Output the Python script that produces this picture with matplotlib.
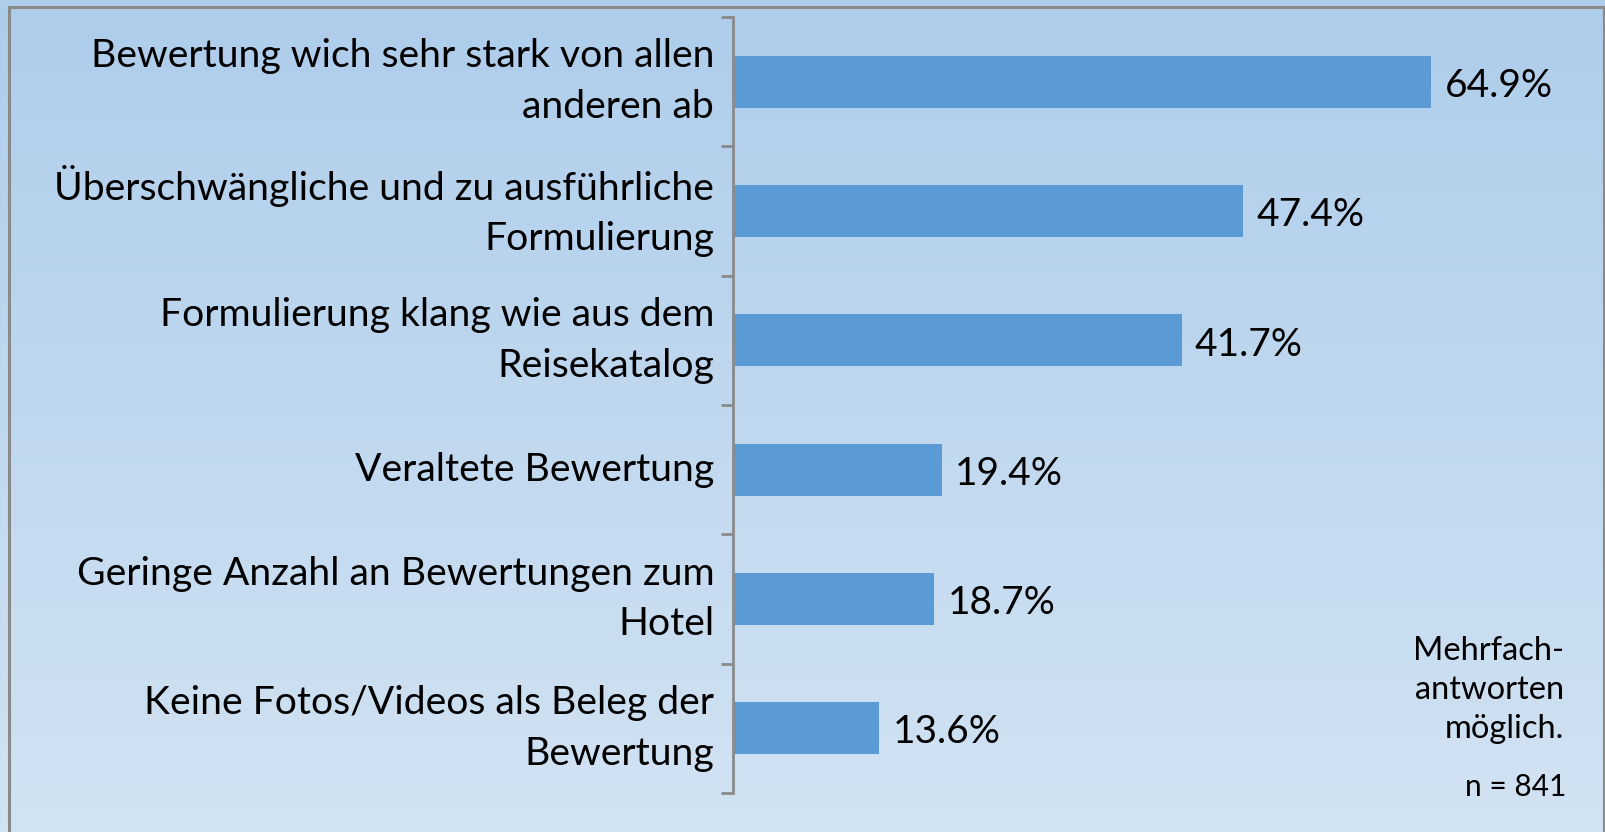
import matplotlib
matplotlib.use("Agg")
import matplotlib.pyplot as plt
import numpy as np
from matplotlib.lines import Line2D

categories = [
    "Bewertung wich sehr stark von allen\nanderen ab",
    "Überschwängliche und zu ausführliche\nFormulierung",
    "Formulierung klang wie aus dem\nReisekatalog",
    "Veraltete Bewertung",
    "Geringe Anzahl an Bewertungen zum\nHotel",
    "Keine Fotos/Videos als Beleg der\nBewertung",
]
values = [64.9, 47.4, 41.7, 19.4, 18.7, 13.6]
value_labels = ["64.9%", "47.4%", "41.7%", "19.4%", "18.7%", "13.6%"]
note_text = "Mehrfach-\nantworten\nmöglich."
n_text = "n = 841"

plt.rcParams['font.family'] = ['Lato', 'DejaVu Sans']

W, H = 1606, 832
fig = plt.figure(figsize=(W / 100, H / 100), dpi=100)

# gradient background
bg = fig.add_axes([0, 0, 1, 1], zorder=-10)
top = np.array([174, 205, 235]) / 255
bot = np.array([210, 227, 243]) / 255
t = np.linspace(0, 1, 256)[:, None]
grad = top[None, :] * (1 - t) + bot[None, :] * t
bg.imshow(grad[:, None, :], aspect='auto', extent=[0, 1, 0, 1], origin='upper')
bg.set_xlim(0, 1); bg.set_ylim(0, 1)
bg.axis('off')
# frame
fx0, fy0 = 9.5 / W, 1 - 6.5 / H
bg.add_line(Line2D([fx0, fx0], [0, fy0], color='#8a8a8a', lw=2.2))
bg.add_line(Line2D([fx0, 1], [fy0, fy0], color='#8a8a8a', lw=2.2))
bg.add_line(Line2D([1 - 1.5 / W, 1 - 1.5 / W], [0, fy0], color='#8a8a8a', lw=1.5))

ax_left = 733 / W
ax_right = (733 + 70 * 10.76) / W
ax_top = 1 - 17 / H
ax_bot = 1 - 793 / H
ax = fig.add_axes([ax_left, ax_bot, ax_right - ax_left, ax_top - ax_bot])
ax.patch.set_alpha(0)

y = np.arange(len(categories))
ax.barh(y, values, height=0.4, color='#5B9BD5', zorder=2)
ax.set_xlim(0, 70)
ax.set_ylim(len(categories) - 0.5, -0.5)

for yi, v, lab in zip(y, values, value_labels):
    ax.annotate(lab, (v, yi), xytext=(9.5, -3), textcoords='offset points',
                ha='left', va='center', fontsize=28, color='black')

for s in ['top', 'right', 'bottom']:
    ax.spines[s].set_visible(False)
ax.spines['left'].set_color('#8a8a8a')
ax.spines['left'].set_linewidth(2)
ax.set_xticks([])
ax.set_yticks(y)
ax.set_yticklabels(categories, fontsize=28.2, linespacing=1.5, va='center')
ax.tick_params(axis='y', which='major', length=0, pad=13.5)
ax.set_yticks(np.arange(-0.5, len(categories)), minor=True)
ax.tick_params(axis='y', which='minor', length=8.5, width=2, color='#8a8a8a', direction='out')

fig.text(1564 / W, 1 - 690 / H, note_text, ha='right', va='center', fontsize=23.5,
         linespacing=1.38, color='black')
fig.text(1566 / W, 1 - 787 / H, n_text, ha='right', va='center', fontsize=21.5, color='black')

fig.savefig('out.png', dpi=100)
